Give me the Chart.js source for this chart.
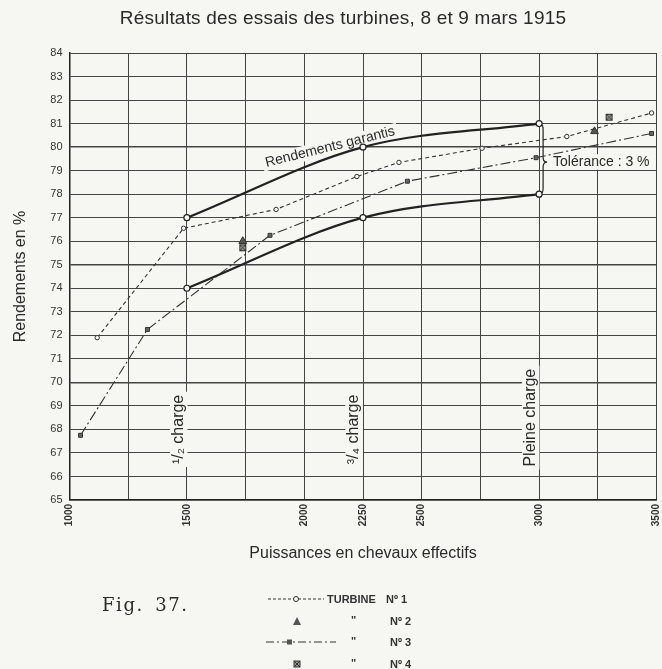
<!DOCTYPE html>
<html>
<head>
<meta charset="utf-8">
<script src="https://cdn.jsdelivr.net/npm/chart.js@4/dist/chart.umd.min.js"></script>
<style>
  body { margin: 0; background: #f6f6f3; }
  #wrap { position: relative; width: 662px; height: 669px; font-family: 'Liberation Sans', Arial, sans-serif; color: #2a2a2a; }
  #chart { position: absolute; left: 0; top: 0; }
  #title { position: absolute; top: 7px; left: 0; width: 686px; text-align: center; font-size: 19px; letter-spacing: 0.2px; }
  .fig { position: absolute; left: 102px; top: 594px; font-family: 'DejaVu Serif', 'Liberation Serif', serif; font-size: 18px; letter-spacing: 1.6px; word-spacing: 4px; }
  .lg { position: absolute; font-size: 11px; font-weight: bold; line-height: 14px; color: #333; }
  #lgsvg { position: absolute; left: 260px; top: 590px; }
</style>
</head>
<body>
<div id="wrap">
  <canvas id="chart" width="662" height="669"></canvas>
  <div id="title">Résultats des essais des turbines, 8 et 9 mars 1915</div>
  <div class="fig">Fig. 37.</div>
  <svg id="lgsvg" width="110" height="80">
    <line x1="8" y1="9" x2="64" y2="9" stroke="#333" stroke-width="1" stroke-dasharray="3,2"/>
    <circle cx="36" cy="9" r="2.5" fill="#f6f6f3" stroke="#333" stroke-width="1"/>
    <polygon points="37,27 33,35 41,35" fill="#555"/>
    <line x1="6" y1="52" x2="76" y2="52" stroke="#333" stroke-width="1" stroke-dasharray="8,3,2,3"/>
    <rect x="27" y="49.5" width="5" height="5" fill="#555"/>
    <rect x="34" y="71" width="6" height="6" fill="#999" stroke="#333" stroke-width="1"/>
    <path d="M34 71 L40 77 M40 71 L34 77" stroke="#333" stroke-width="1"/>
  </svg>
  <div class="lg" style="left:327px;top:592px;">TURBINE</div>
  <div class="lg" style="left:386px;top:592px;">Nº 1</div>
  <div class="lg" style="left:351px;top:613px;">"</div>
  <div class="lg" style="left:390px;top:614px;">Nº 2</div>
  <div class="lg" style="left:351px;top:634px;">"</div>
  <div class="lg" style="left:390px;top:635px;">Nº 3</div>
  <div class="lg" style="left:351px;top:656px;">"</div>
  <div class="lg" style="left:390px;top:657px;">Nº 4</div>
</div>
<script>
// puissances (ch. eff.) et rendements (%)
const garantiX = [1500, 2250, 3000];
const garantiHaut = [77, 80, 81];
const garantiBas = [74, 77, 78];

const turbine1X = [1118, 1486, 1880, 2224, 2403, 2757, 3118, 3479];
const turbine1Y = [71.9, 76.55, 77.35, 78.75, 79.35, 79.95, 80.45, 81.45];

const turbine2X = [1738, 3236];
const turbine2Y = [76.0, 80.67];

const turbine3X = [1047, 1332, 1854, 2439, 2987, 3479];
const turbine3Y = [67.75, 72.25, 76.25, 78.55, 79.55, 80.58];

const turbine4X = [1738, 3298];
const turbine4Y = [75.72, 81.27];

const xTickLabels = [1000, 1500, 2000, 2250, 2500, 3000, 3500];

const BG = '#f6f6f3';
const INK = '#222';
const FONT = "'Liberation Sans', Arial, sans-serif";

const pts = (xs, ys) => xs.map((x, i) => ({ x: x, y: ys[i] }));

// square with a cross, for turbine 4
const crossBox = document.createElement('canvas');
crossBox.width = 9; crossBox.height = 9;
(() => {
  const c = crossBox.getContext('2d');
  c.fillStyle = '#999';
  c.fillRect(1, 1, 7, 7);
  c.strokeStyle = '#333';
  c.lineWidth = 1;
  c.strokeRect(1.5, 1.5, 6, 6);
  c.beginPath();
  c.moveTo(1.5, 1.5); c.lineTo(7.5, 7.5);
  c.moveTo(7.5, 1.5); c.lineTo(1.5, 7.5);
  c.stroke();
})();

// labels placed on the chart, in data units
const notes = [
  { text: 'Rendements garantis', x: 2110, y: 80.0, rot: -14, size: 14 },
  { text: 'Tolérance : 3 %', x: 3265, y: 79.37, rot: 0, size: 14 },
  { text: '¹/₂ charge', x: 1465, y: 68.0, rot: -90, size: 16 },
  { text: '³/₄ charge', x: 2212, y: 68.0, rot: -90, size: 16 },
  { text: 'Pleine charge', x: 2964, y: 68.5, rot: -90, size: 16 }
];

const annotations = {
  id: 'annotations',
  beforeDatasetsDraw(chart) {
    const { ctx, scales: { x, y } } = chart;
    ctx.save();
    notes.forEach(n => {
      ctx.save();
      ctx.translate(x.getPixelForValue(n.x), y.getPixelForValue(n.y));
      ctx.rotate(n.rot * Math.PI / 180);
      ctx.font = n.size + 'px ' + FONT;
      ctx.textAlign = 'center';
      ctx.textBaseline = 'middle';
      const w = ctx.measureText(n.text).width;
      ctx.fillStyle = BG;
      ctx.fillRect(-w / 2 - 3, -n.size * 0.55, w + 6, n.size * 1.1);
      ctx.fillStyle = '#2a2a2a';
      ctx.fillText(n.text, 0, 0);
      ctx.restore();
    });
    // accolade de tolérance
    const bx = x.getPixelForValue(3000);
    const y1 = y.getPixelForValue(81), y2 = y.getPixelForValue(78);
    const ym = y.getPixelForValue(79.36);
    ctx.strokeStyle = INK;
    ctx.lineWidth = 1.2;
    ctx.beginPath();
    ctx.moveTo(bx, y1);
    ctx.quadraticCurveTo(bx + 4, y1, bx + 4, y1 + 6);
    ctx.lineTo(bx + 4, ym - 5);
    ctx.quadraticCurveTo(bx + 4, ym, bx + 8, ym);
    ctx.quadraticCurveTo(bx + 4, ym, bx + 4, ym + 5);
    ctx.lineTo(bx + 4, y2 - 6);
    ctx.quadraticCurveTo(bx + 4, y2, bx, y2);
    ctx.stroke();
    ctx.restore();
  }
};

new Chart(document.getElementById('chart'), {
  type: 'line',
  data: {
    datasets: [
      {
        label: 'Rendements garantis',
        data: pts(garantiX, garantiHaut),
        borderColor: INK, borderWidth: 2.2,
        cubicInterpolationMode: 'monotone',
        pointStyle: 'circle', pointRadius: 3,
        pointBackgroundColor: BG, pointBorderColor: INK, pointBorderWidth: 1.2
      },
      {
        label: 'Tolérance',
        data: pts(garantiX, garantiBas),
        borderColor: INK, borderWidth: 2.2,
        cubicInterpolationMode: 'monotone',
        pointStyle: 'circle', pointRadius: 3,
        pointBackgroundColor: BG, pointBorderColor: INK, pointBorderWidth: 1.2
      },
      {
        label: 'Turbine Nº 1',
        data: pts(turbine1X, turbine1Y),
        borderColor: '#333', borderWidth: 1.1, borderDash: [4, 3],
        tension: 0,
        pointStyle: 'circle', pointRadius: 2.2,
        pointBackgroundColor: BG, pointBorderColor: '#333', pointBorderWidth: 1
      },
      {
        label: 'Nº 2',
        data: pts(turbine2X, turbine2Y),
        showLine: false,
        pointStyle: 'triangle', pointRadius: 4.5,
        pointBackgroundColor: '#555', pointBorderColor: '#333', pointBorderWidth: 1
      },
      {
        label: 'Nº 3',
        data: pts(turbine3X, turbine3Y),
        borderColor: '#333', borderWidth: 1.1, borderDash: [10, 3, 2, 3],
        tension: 0,
        pointStyle: 'rect', pointRadius: 2.8,
        pointBackgroundColor: '#666', pointBorderColor: '#333', pointBorderWidth: 1
      },
      {
        label: 'Nº 4',
        data: pts(turbine4X, turbine4Y),
        showLine: false,
        pointStyle: crossBox, pointRadius: 4
      }
    ]
  },
  options: {
    responsive: false,
    animation: false,
    devicePixelRatio: 1,
    layout: { padding: { top: 53, right: 4, bottom: 103, left: 0 } },
    plugins: {
      legend: { display: false },
      tooltip: { enabled: false }
    },
    scales: {
      x: {
        type: 'linear',
        min: 1000, max: 3500,
        afterFit(scale) { scale.height = 66; scale.paddingLeft = 0; scale.paddingRight = 0; },
        ticks: {
          stepSize: 250,
          autoSkip: false,
          minRotation: 90, maxRotation: 90,
          padding: 4,
          color: '#333',
          font: { family: FONT, size: 10, weight: 'bold' },
          callback: v => xTickLabels.includes(v) ? String(v) : ''
        },
        grid: { color: '#444', lineWidth: 1, drawTicks: false },
        border: { color: INK, width: 1.5 },
        title: {
          display: true,
          text: 'Puissances en chevaux effectifs',
          color: '#2a2a2a',
          font: { family: FONT, size: 16 },
          padding: { top: 0, bottom: 3 }
        }
      },
      y: {
        min: 65, max: 84,
        afterFit(scale) { scale.width = 69.5; },
        ticks: {
          stepSize: 1,
          padding: 7,
          color: '#333',
          font: { family: FONT, size: 11 }
        },
        grid: {
          color: '#444',
          lineWidth: c => (c.tick && c.tick.value % 5 === 0) ? 1.5 : 1,
          drawTicks: false
        },
        border: { color: INK, width: 1.5 },
        title: {
          display: true,
          text: 'Rendements en %',
          color: '#2a2a2a',
          font: { family: FONT, size: 16 },
          padding: { top: 11, bottom: 0 }
        }
      }
    }
  },
  plugins: [annotations]
});
</script>
</body>
</html>
